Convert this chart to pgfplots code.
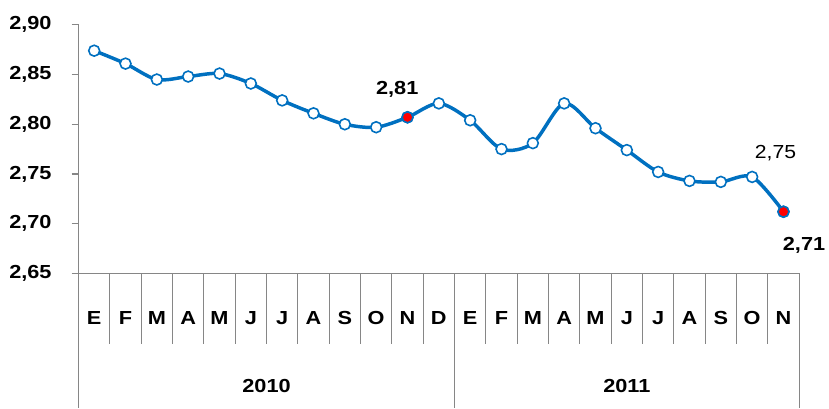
\documentclass[border=0pt]{standalone}
\usepackage{pgfplots}
\pgfplotsset{compat=1.18}
\usepackage{fontspec}
\setmainfont{Liberation Sans}
\definecolor{lineblue}{RGB}{0,112,192}
\definecolor{axisgray}{RGB}{134,134,134}
\begin{document}
\begin{tikzpicture}
\begin{axis}[
    scale only axis,
    width=725pt, height=250pt,
    xmin=-0.5, xmax=22.5,
    ymin=2.65, ymax=2.90,
    ytick={2.65,2.70,...,2.90},
    xtick={0,...,22},
    xticklabels={E,F,M,A,M,J,J,A,S,O,N,D,E,F,M,A,M,J,J,A,S,O,N},
    xtick style={draw=none},
    xticklabel style={anchor=base, yshift=-44pt},
    axis x line=bottom, axis y line=left,
    axis line style={axisgray, line width=1.2pt, -},
    ytick style={axisgray, line width=1.2pt},
    tick align=outside, major tick length=7pt,
    ticklabel style={font=\fontsize{19}{22}\selectfont\bfseries, xscale=1.15},
    yticklabel style={xshift=-14pt},
    /pgf/number format/.cd, fixed, fixed zerofill, precision=2, use comma, assume math mode=true,
    /pgfplots/.cd,
    clip=false,
]
\addplot[lineblue, line width=3.5pt, smooth, tension=0.5,
    mark=*, mark size=5.5pt,
    mark options={fill=white, draw=lineblue, line width=1.6pt}]
coordinates {
    (0,2.874) (1,2.861) (2,2.845) (3,2.848) (4,2.851) (5,2.841)
    (6,2.824) (7,2.811) (8,2.800) (9,2.797) (10,2.807) (11,2.821)
    (12,2.804) (13,2.775) (14,2.781) (15,2.821) (16,2.796) (17,2.774)
    (18,2.752) (19,2.743) (20,2.742) (21,2.747) (22,2.712)
};
\addplot[only marks, mark=*, mark size=5.5pt,
    mark options={fill=red, draw=lineblue, line width=1.6pt}]
coordinates { (10,2.807) (22,2.712) };
\node[font=\fontsize{19}{22}\selectfont\bfseries, xscale=1.15, anchor=base] at (axis cs:10,2.807) [xshift=-9pt, yshift=23pt] {2,81};
\node[font=\fontsize{19}{22}\selectfont, xscale=1.12, anchor=base] at (axis cs:21,2.747) [xshift=21pt, yshift=19pt] {2,75};
\node[font=\fontsize{19}{22}\selectfont\bfseries, xscale=1.15, anchor=base] at (axis cs:22,2.712) [xshift=18pt, yshift=-39pt] {2,71};
\end{axis}
\foreach \i in {1,...,11,13,14,...,22} \draw[axisgray, line width=1.2pt] (\i*31.5217pt,0) -- (\i*31.5217pt,-71pt);
\foreach \i in {0,12,23} \draw[axisgray, line width=1.2pt] (\i*31.5217pt,0) -- (\i*31.5217pt,-135pt);
\node[font=\fontsize{19}{22}\selectfont\bfseries, xscale=1.15, anchor=base] at (6*31.5217pt,-120pt) {2010};
\node[font=\fontsize{19}{22}\selectfont\bfseries, xscale=1.15, anchor=base] at (17.5*31.5217pt,-120pt) {2011};
\path (-79pt,-135pt) rectangle (750pt,275pt);
\end{tikzpicture}
\end{document}
